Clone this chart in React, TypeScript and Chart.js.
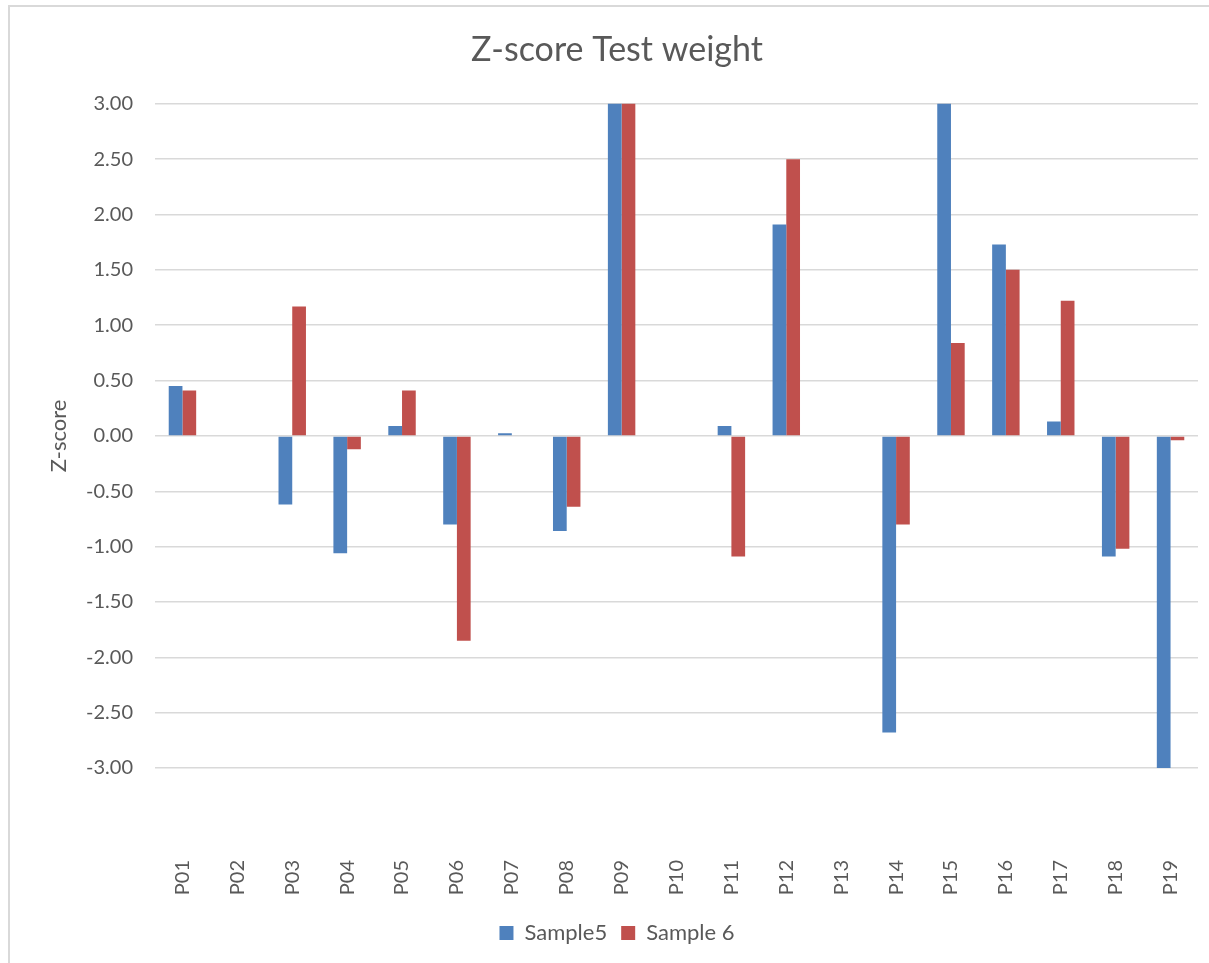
import React, { useEffect, useRef } from "react";
import { Chart, registerables } from "chart.js";

Chart.register(...registerables);

const categories = ["P01","P02","P03","P04","P05","P06","P07","P08","P09","P10","P11","P12","P13","P14","P15","P16","P17","P18","P19"];
const sample5: (number | null)[] = [0.45, null, -0.62, -1.06, 0.09, -0.80, 0.025, -0.86, 3.4, null, 0.09, 1.91, null, -2.68, 3.5, 1.73, 0.13, -1.09, -3.3];
const sample6: (number | null)[] = [0.41, null, 1.17, -0.12, 0.41, -1.85, null, -0.64, 3.3, null, -1.09, 2.50, null, -0.80, 0.84, 1.50, 1.22, -1.02, -0.04];
const seriesNames = ["Sample5", "Sample 6"];
const yTicks = { min: -3, max: 3, step: 0.5 };

const FONT = "Lato, 'Open Sans', sans-serif";
const GRAY = "#595959";

export default function App() {
  const ref = useRef<HTMLCanvasElement | null>(null);
  useEffect(() => {
    if (!ref.current) return;
    const chart = new Chart(ref.current, {
      type: "bar",
      data: {
        labels: categories,
        datasets: [
          { label: seriesNames[0], data: sample5, backgroundColor: "#4F81BD", categoryPercentage: 0.5, barPercentage: 1 },
          { label: seriesNames[1], data: sample6, backgroundColor: "#C0504D", categoryPercentage: 0.5, barPercentage: 1 },
        ],
      },
      options: {
        animation: false,
        responsive: false,
        maintainAspectRatio: false,
        layout: { padding: { left: 36, right: 11, top: 0, bottom: 9 } },
        plugins: {
          title: {
            display: true,
            text: "Z-score Test weight",
            color: GRAY,
            font: { family: FONT, size: 34, weight: "normal" },
            padding: { top: 30, bottom: 33 },
          },
          legend: {
            position: "bottom",
            labels: {
              color: GRAY,
              font: { family: FONT, size: 22 },
              boxWidth: 14,
              boxHeight: 14,
              padding: 14,
            },
          },
          tooltip: { enabled: false },
        },
        scales: {
          x: {
            afterFit: (s: any) => { s.height = 140; s.paddingLeft = 0; s.paddingRight = 0; },
            grid: { display: false, drawTicks: false },
            border: { display: false },
            ticks: {
              color: GRAY,
              font: { family: FONT, size: 20 },
              minRotation: 90,
              maxRotation: 90,
              padding: 92,
              autoSkip: false,
            },
          },
          y: {
            min: yTicks.min,
            max: yTicks.max,
            afterFit: (s: any) => { s.width = 119; },
            grid: { color: "#D9D9D9", lineWidth: 1.5, drawTicks: false },
            border: { display: false },
            ticks: {
              stepSize: yTicks.step,
              color: GRAY,
              font: { family: FONT, size: 20 },
              padding: 22,
              callback: (v: any) => Number(v).toFixed(2),
            },
            title: {
              display: true,
              text: "Z-score",
              color: GRAY,
              font: { family: FONT, size: 22 },
              padding: { top: 10, bottom: 0 },
            },
          },
        },
      },
    });
    return () => chart.destroy();
  }, []);
  return (
    <div style={{ position: "absolute", left: 0, top: 0, width: 1209, height: 963, background: "#fff", overflow: "hidden" }}>
      <div style={{ position: "absolute", left: 8, top: 5, right: -4, bottom: -4, borderLeft: "2px solid #D9D9D9", borderTop: "2px solid #D9D9D9" }} />
      <canvas ref={ref} width={1209} height={963} style={{ position: "absolute", left: 0, top: 0 }} />
    </div>
  );
}
